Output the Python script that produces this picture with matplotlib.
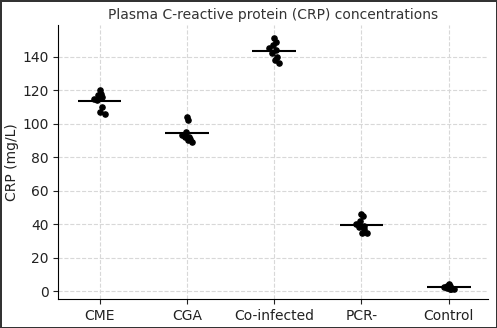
import numpy as np
import matplotlib
matplotlib.use('Agg')
import matplotlib.pyplot as plt

groups = ['CME', 'CGA', 'Co-infected', 'PCR-', 'Control']
cme = [120, 118, 117, 115, 116, 114, 110, 107, 106]
cga = [104, 102, 95, 93, 92, 92, 91, 90, 89]
coinf = [151, 149, 147, 145, 144, 142, 140, 138, 136]
pcr = [46, 45, 42, 40, 39, 38, 37, 35, 35]
control = [4, 3, 3, 2.5, 2, 2, 1.5, 1, 1]

# fixed horizontal scatter so points don't overlap
jitter = [0.0, 0.015, -0.015, -0.06, 0.025, -0.025, 0.03, 0.01, 0.06]

fig = plt.figure(figsize=(4.97, 3.28), dpi=100)
fig.patch.set_edgecolor('#333333')
fig.patch.set_linewidth(2)
ax = fig.add_axes([0.117, 0.088, 0.865, 0.836])

for i, vals in enumerate([cme, cga, coinf, pcr, control]):
    xs = [i + j for j in jitter[:len(vals)]]
    ax.scatter(xs, vals, s=14, color='black', zorder=3)
    m = np.mean(vals)
    ax.hlines(m, i - 0.25, i + 0.25, color='black', lw=1.5, zorder=4)

ax.set_xticks(range(len(groups)))
ax.set_xticklabels(groups)
ax.set_yticks(range(0, 141, 20))
ax.set_ylim(-4.8, 159)
ax.set_xlim(-0.475, 4.45)
ax.set_ylabel('CRP (mg/L)', labelpad=2)
ax.set_title('Plasma C-reactive protein (CRP) concentrations', fontsize=10, color='#333333', pad=4)
ax.grid(True, ls='--', color='#d8d8d8', lw=0.8)
ax.set_axisbelow(True)
ax.spines['top'].set_visible(False)
ax.spines['right'].set_visible(False)
ax.tick_params(labelsize=10, colors='#222222')
ax.yaxis.label.set_color('#222222')

plt.savefig('out.png', dpi=100)
